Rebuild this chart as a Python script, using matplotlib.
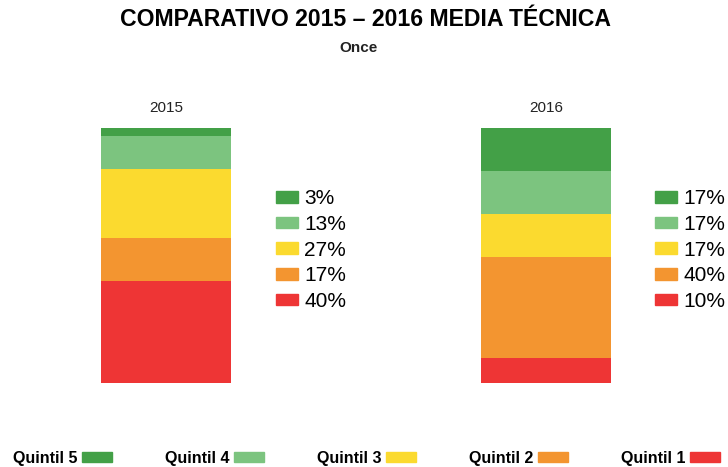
import matplotlib.pyplot as plt
from matplotlib.patches import Patch

years = ["2015", "2016"]
quintiles = ["Quintil 1", "Quintil 2", "Quintil 3", "Quintil 4", "Quintil 5"]
vals_2015 = [40, 17, 27, 13, 3]
vals_2016 = [10, 40, 17, 17, 17]
colors = ["#EE3535", "#F39530", "#FBDA2F", "#7CC47F", "#43A047"]

plt.rcParams["font.family"] = ["Liberation Sans", "DejaVu Sans"]

W, H = 728, 467
fig = plt.figure(figsize=(W / 100, H / 100), dpi=100)

fig.text(365 / W, 1 - 19 / H, "COMPARATIVO 2015 – 2016 MEDIA TÉCNICA", ha="center", va="center",
         fontsize=16.6, fontweight="bold")
fig.text(358 / W, 1 - 48 / H, "Once", ha="center", va="center", fontsize=11, fontweight="bold",
         color="#222222")


def stack(x0, vals, year, legx):
    ax = fig.add_axes([x0 / W, (H - 383) / H, 130 / W, 255 / H])
    bottom = 0
    for v, c in zip(vals, colors):
        ax.bar(0, v, bottom=bottom, width=1.0, color=c, linewidth=0)
        bottom += v
    ax.set_xlim(-0.5, 0.5)
    ax.set_ylim(0, bottom)
    ax.axis("off")
    ax.text(0, bottom * 1.077, year, ha="center", va="center", fontsize=11, color="#222222")
    handles = [Patch(color=c) for c in colors][::-1]
    labels = [f"{v}%" for v in vals][::-1]
    ax.legend(handles, labels, loc="center left", bbox_to_anchor=(legx / W, 1 - 250 / H),
              bbox_transform=fig.transFigure, frameon=False, fontsize=15, handlelength=1.05,
              handleheight=0.5, labelspacing=0.32, handletextpad=0.3, borderpad=0, borderaxespad=0)


stack(101, vals_2015, years[0], 276)
stack(481, vals_2016, years[1], 655)

bottom_handles = [Patch(color=c) for c in colors][::-1]
fig.legend(bottom_handles, quintiles[::-1], loc="center left", bbox_to_anchor=(13 / W, 1 - 458 / H),
           ncol=5, frameon=False, markerfirst=False, prop={"weight": "bold", "size": 11.5},
           handlelength=1.85, handleheight=0.55, handletextpad=0.3, columnspacing=3.33, borderpad=0,
           borderaxespad=0)

fig.savefig("out.png", dpi=100)
